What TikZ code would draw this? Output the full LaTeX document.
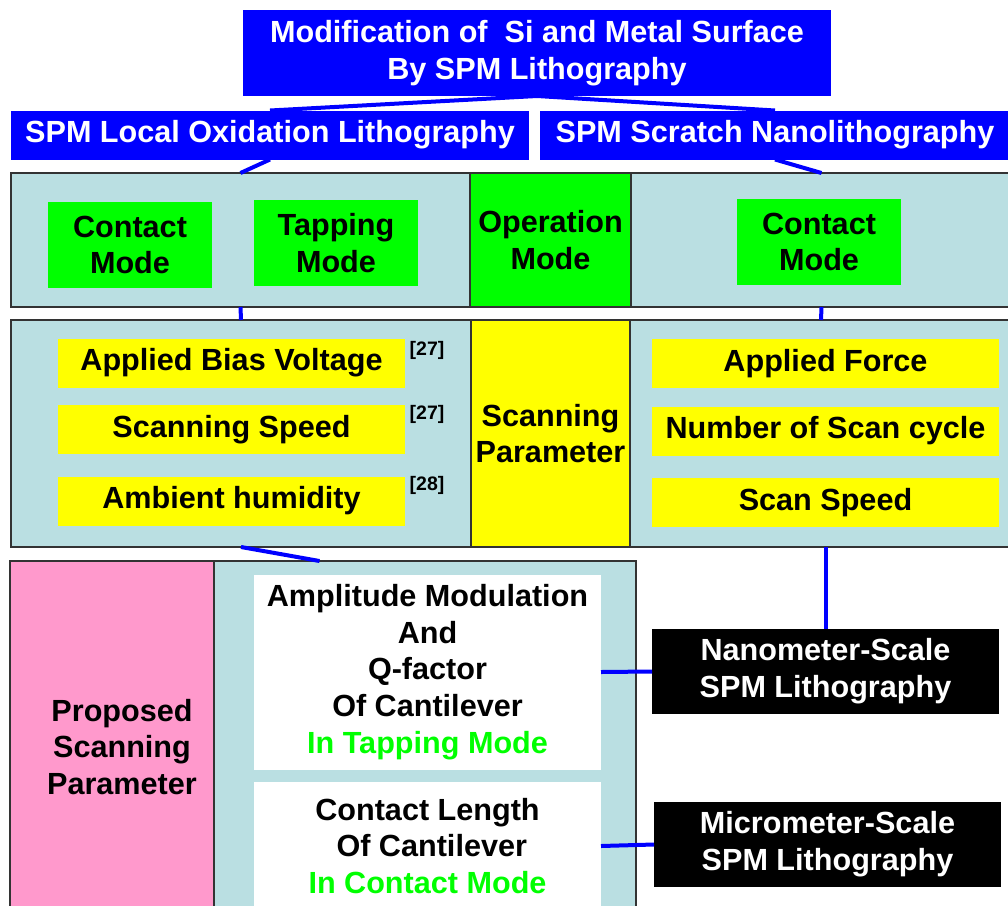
\documentclass[tikz,border=0pt]{standalone}
\usepackage{fontspec}
\setmainfont{Liberation Sans}
\usepackage{tikz}
\usetikzlibrary{calc}

\definecolor{spmblue}{RGB}{0,0,255}
\definecolor{panel}{RGB}{186,223,226}
\definecolor{modegreen}{RGB}{0,255,0}
\definecolor{paryellow}{RGB}{255,255,0}
\definecolor{proppink}{RGB}{255,153,204}
\definecolor{rule}{RGB}{51,51,51}

\begin{document}
\begin{tikzpicture}[x=1pt,y=-1pt,
    every node/.style={font=\bfseries\fontsize{30.6}{36.8}\selectfont, align=center, inner sep=0pt, outer sep=0pt},
    bluebox/.style={fill=spmblue, text=white},
    cell/.style={draw=rule, line width=1.3pt},
    modebox/.style={fill=modegreen, minimum width=164, minimum height=86},
    parbox/.style={fill=paryellow, minimum width=347, minimum height=49},
    scalebox/.style={fill=black, text=white, minimum width=347, minimum height=85},
    ref/.style={font=\bfseries\fontsize{19.5}{21}\selectfont},
    conn/.style={draw=spmblue, line width=4pt}]
    \useasboundingbox (0,0) rectangle (1008,905);
    % top level
    \node (title) at (537,53) [bluebox, minimum width=588, minimum height=86] {Modification of\ \ Si and Metal Surface\\By SPM Lithography};
    \node (loc) at (270,135) [bluebox, minimum width=518, minimum height=49] {SPM Local Oxidation Lithography};
    \node (scr) at (775,135) [bluebox, minimum width=470, minimum height=49] {SPM Scratch Nanolithography};
    % operation mode
    \node (modeL) at (240.5,240) [cell, fill=panel, minimum width=459, minimum height=134] {};
    \node (opMode) at (550.5,240) [cell, fill=modegreen, minimum width=161, minimum height=134] {Operation\\Mode};
    \node (modeR) at (821.5,240) [cell, fill=panel, minimum width=381, minimum height=134] {};
    \node (contactL) at (130,245) [modebox] {Contact\\Mode};
    \node (tapping) at (336,243) [modebox] {Tapping\\Mode};
    \node (contactR) at (819,242) [modebox] {Contact\\Mode};
    % scanning parameter
    \node (parL) at (241,433.5) [cell, fill=panel, minimum width=460, minimum height=227] {};
    \node (scanPar) at (550.5,433.5) [cell, fill=paryellow, minimum width=159, minimum height=227] {Scanning\\Parameter};
    \node (parR) at (821,433.5) [cell, fill=panel, minimum width=382, minimum height=227] {};
    \node (bias) at (231.5,363) [parbox] {Applied Bias Voltage};
    \node (speed) at (231.5,429.5) [parbox] {Scanning Speed};
    \node (humid) at (231.5,501) [parbox] {Ambient humidity};
    \node (refA) at (427,350) [ref] {[27]};
    \node (refB) at (427,414) [ref] {[27]};
    \node (refC) at (427,485) [ref] {[28]};
    \node (force) at (825.5,363.5) [parbox] {Applied Force};
    \node (cycle) at (825.5,431) [parbox] {Number of Scan cycle};
    \node (sspeed) at (825.5,502.5) [parbox] {Scan Speed};
    % proposed parameter
    \node (prop) at (112,735.5) [cell, fill=proppink, minimum width=204, minimum height=349] {};
    \node (propText) at (122,747) {Proposed\\Scanning\\Parameter};
    \node (cant) at (425,735.5) [cell, fill=panel, minimum width=422, minimum height=349] {};
    \node (amp) at (427.5,672) [fill=white, minimum width=347, minimum height=195] {Amplitude Modulation\\And\\Q-factor\\Of Cantilever\\\textcolor{modegreen}{In Tapping Mode}};
    \node (clen) at (427.5,846) [fill=white, minimum width=347, minimum height=128] {Contact Length\\\ Of Cantilever\\\textcolor{modegreen}{In Contact Mode}};
    % lithography scale
    \node (nano) at (825.5,671.5) [scalebox] {Nanometer-Scale\\SPM Lithography};
    \node (micro) at (827.5,844.5) [scalebox] {Micrometer-Scale\\SPM Lithography};
    % links
    \draw[conn] (title.south) -- (loc.north);
    \draw[conn] (title.south) -- (scr.north);
    \draw[conn] (loc.south) -- (modeL.north);
    \draw[conn] (scr.south) -- (modeR.north);
    \draw[conn] (modeL.south) -- (parL.north);
    \draw[conn] (modeR.south) -- (parR.north);
    \draw[conn] (parL.south) -- ($(cant.north west)!0.25!(cant.north east)$);
    \draw[conn] (nano.north |- parR.south) -- (nano.north);
    \draw[conn] (amp.east) -- (nano.west);
    \draw[conn] (clen.east) -- (micro.west);
\end{tikzpicture}
\end{document}
